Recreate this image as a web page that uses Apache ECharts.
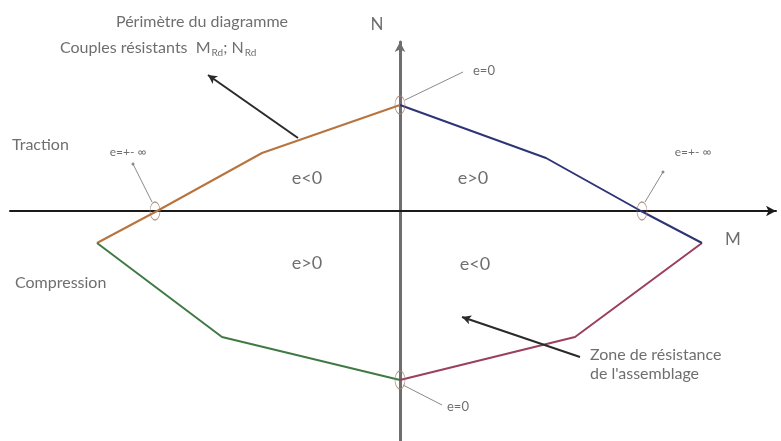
<!DOCTYPE html>
<html>
<head>
<meta charset="utf-8">
<script src="https://cdn.jsdelivr.net/npm/echarts@6/dist/echarts.min.js"></script>
<style>
  html, body { margin: 0; padding: 0; background: #ffffff; }
  #chart { width: 781px; height: 441px; }
</style>
</head>
<body>
<div id="chart"></div>
<script>
// perimeter of the interaction diagram, M (x) / N (y)
const upperLeft = [[0, 106], [-138, 58], [-243, 0], [-303, -32]];
const lowerLeft = [[-303, -32], [-178, -126], [0, -169]];
const lowerRight = [[0, -169], [175, -126], [302, -32]];
const upperRight = [[302, -32], [241, 0], [146, 53], [0, 106]];

// small circles on the perimeter (e=0 and e=+-inf points)
const keyPoints = [[0, 106], [-245, 0], [242, 0], [0, -169]];

// annotation texts and where they sit
const labelTexts = ['N', 'M', 'Traction', 'Compression', 'e<0', 'e>0', 'e>0', 'e<0',
    'e=0', 'e=0', 'e=+- \u221e', 'e=+- \u221e'];
const labelCoords = [[-23, 186], [333, -29], [-388, 66], [-385, -72], [-93, 33], [73, 33],
    [-93, -52], [75, -53], [73, 140], [47, -196], [-272, 59], [293, 59]];

// arrows: [from, to]
const bigArrows = [[[-102, 73], [-192, 136]], [[180, -146], [62, -106]]];
const leaders = [[[5, 111], [63, 139]], [[3, -174], [42, -194]],
    [[-248, 9], [-267, 47]], [[245, 9], [263, 39]]];

const FONT = 'Lato';
const TXT = '#4a4a4a';

const chart = echarts.init(document.getElementById('chart'), null, { renderer: 'canvas' });

const segment = (data, color) => ({
    type: 'line',
    data: data,
    showSymbol: false,
    silent: true,
    lineStyle: { color: color, width: 2 },
    z: 3
});

const sizeOf = (t) => {
    if (t.indexOf('\u221e') >= 0) return 12;
    if (t === 'e=0') return 13;
    if (t[0] === 'e') return 18;
    if (t === 'N' || t === 'M') return 17;
    return 16;
};

chart.setOption({
    animation: false,
    backgroundColor: '#ffffff',
    grid: { left: 10, right: 5, top: 42, bottom: 0 },
    xAxis: {
        type: 'value', min: -390, max: 376,
        axisLine: {
            onZero: true,
            symbol: ['none', 'arrow'], symbolSize: [8, 10],
            lineStyle: { color: '#1a1a1a', width: 2 }
        },
        axisTick: { show: false }, axisLabel: { show: false }, splitLine: { show: false }
    },
    yAxis: {
        type: 'value', min: -230, max: 169,
        axisLine: {
            onZero: true,
            symbol: ['none', 'arrow'], symbolSize: [8, 10],
            lineStyle: { color: '#6e6e6e', width: 3 }
        },
        axisTick: { show: false }, axisLabel: { show: false }, splitLine: { show: false }
    },
    series: [
        segment(upperLeft, '#b8743e'),
        segment(lowerLeft, '#3f7a45'),
        segment(lowerRight, '#9a3f5c'),
        segment(upperRight, '#2e3577'),
        {
            type: 'scatter',
            data: keyPoints,
            symbol: 'circle',
            symbolSize: [10, 18],
            silent: true,
            clip: false,
            itemStyle: { color: 'rgba(255,255,255,0)', borderColor: '#a08070', borderWidth: 1 },
            z: 4
        },
        {
            type: 'scatter',
            clip: false,
            silent: true,
            symbolSize: 0,
            data: labelTexts.map((t, i) => ({
                value: labelCoords[i],
                label: {
                    show: true,
                    formatter: t,
                    position: 'inside',
                    align: (t === 'Traction' || t === 'Compression' || t === 'e=0') ? 'left' : 'center',
                    fontSize: sizeOf(t),
                    fontFamily: FONT,
                    color: TXT
                }
            })).concat([
                {
                    value: [-198, 189],
                    label: {
                        show: true, position: 'inside', align: 'center',
                        formatter: 'Périmètre du diagramme',
                        fontSize: 16, fontFamily: FONT, color: TXT
                    }
                },
                {
                    value: [-340, 163],
                    label: {
                        show: true, position: 'inside', align: 'left',
                        formatter: '{t|Couples résistants  M}{s|Rd}{t|; N}{s|Rd}',
                        rich: {
                            t: { fontSize: 16, fontFamily: FONT, color: TXT, lineHeight: 20 },
                            s: { fontSize: 10, fontFamily: FONT, color: TXT, padding: [9, 0, 0, 1], lineHeight: 20 }
                        }
                    }
                },
                {
                    value: [190, -153],
                    label: {
                        show: true, position: 'inside', align: 'left',
                        formatter: 'Zone de résistance\nde l\'assemblage',
                        fontSize: 16, lineHeight: 19, fontFamily: FONT, color: TXT
                    }
                }
            ]),
            z: 5
        },
        {
            type: 'line',
            data: [],
            silent: true,
            markLine: {
                silent: true,
                animation: false,
                label: { show: false },
                emphasis: { disabled: true },
                data: bigArrows.map(a => [
                    { coord: a[0], symbol: 'none', lineStyle: { color: '#2a2a2a', width: 2, type: 'solid' } },
                    { coord: a[1], symbol: 'arrow', symbolSize: [7, 9] }
                ]).concat(leaders.map((a, i) => [
                    { coord: a[0], symbol: 'none', lineStyle: { color: '#8a8a8a', width: 1, type: 'solid' } },
                    { coord: a[1], symbol: i >= 2 ? 'circle' : 'none', symbolSize: 3 }
                ]))
            },
            z: 6
        }
    ]
});
</script>
</body>
</html>
